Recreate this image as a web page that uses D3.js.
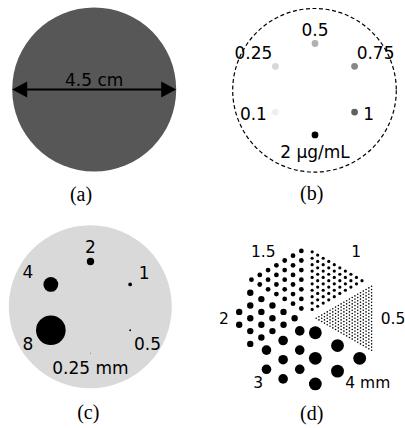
<!DOCTYPE html>
<html lang="en">
<head>
<meta charset="UTF-8"/>
<title>Phantom panels</title>
<script src="https://d3js.org/d3.v7.min.js"></script>
<style>
	body{margin:0;background:#fff;}
	svg{display:block;}
	.lbl{font-family:"DejaVu Sans",sans-serif;font-size:17px;fill:#000;}
	.lblD{font-family:"DejaVu Sans",sans-serif;font-size:15.5px;fill:#000;}
	.cap{font-family:"Liberation Serif","Times New Roman",serif;font-size:20px;fill:#000;}
</style>
</head>
<body>
<script>
// (a) uniform phantom
var diameterCm = 4.5;
// (b) wells, clockwise from the top
var concValues = [0.5, 0.75, 1, 2, 0.1, 0.25];
var concLabels = ["0.5", "0.75", "1", "2 µg/mL", "0.1", "0.25"];
// (c) rods, clockwise from the top
var rodSizes = [2, 1, 0.5, 0.25, 8, 4];
var rodLabels = ["2", "1", "0.5", "0.25 mm", "8", "4"];
// (d) derenzo sectors, clockwise from upper right
var sectorDiam = [1, 0.5, 4, 3, 2, 1.5];
var sectorRows = [10, 21, 3, 4, 6, 7];
var sectorLabels = ["1", "0.5", "4 mm", "3", "2", "1.5"];
var captions = ["(a)", "(b)", "(c)", "(d)"];

var w = 405, h = 428;
var svg = d3.select("body").append("svg")
	.attr("width", w).attr("height", h);
svg.append("rect").attr("width", w).attr("height", h).attr("fill", "#fff");

function hexAngle(i){ return (-90 + 60*i) * Math.PI/180; }

// ---- (a)
var aC = [94.2, 89.5], aR = 82;
svg.append("circle").attr("cx", aC[0]).attr("cy", aC[1]).attr("r", aR).attr("fill", "#575757");
var xa = d3.scaleLinear().domain([0, diameterCm]).range([aC[0]-aR, aC[0]+aR]);
svg.append("line")
	.attr("x1", xa(0)+10).attr("x2", xa(diameterCm)-10)
	.attr("y1", aC[1]).attr("y2", aC[1])
	.attr("stroke", "#000").attr("stroke-width", 2.2);
[0, diameterCm].forEach(function(v){
	var tip = xa(v), dir = v == 0 ? 1 : -1;
	svg.append("path")
		.attr("d", "M"+tip+","+aC[1]+"L"+(tip+dir*15)+","+(aC[1]-8)+"L"+(tip+dir*15)+","+(aC[1]+8)+"Z")
		.attr("fill", "#000");
});
svg.append("text").attr("class", "lbl")
	.attr("x", (xa(0)+xa(diameterCm))/2).attr("y", aC[1]-3.5)
	.attr("text-anchor", "middle").text(diameterCm + " cm");

// ---- (b)
var bC = [315, 89.2], bRing = 45.7;
svg.append("circle").attr("cx", 314.5).attr("cy", 90.3).attr("r", 81.8)
	.attr("fill", "none").attr("stroke", "#000").attr("stroke-width", 1.2)
	.attr("stroke-dasharray", "4,2.6");
var gray = d3.scaleLinear().domain([0, 1, 2]).range(["#ffffff", "#606060", "#000000"]);
svg.selectAll(".well").data(concValues).enter().append("circle")
	.attr("class", "well")
	.attr("cx", function(d, i){ return bC[0] + bRing*Math.cos(hexAngle(i)); })
	.attr("cy", function(d, i){ return bC[1] + bRing*Math.sin(hexAngle(i)); })
	.attr("r", 3.4)
	.attr("fill", function(d){ return gray(d); });
var bOff = [[0,-7.3],[21,-7.4],[14,7.6],[0,23.3],[-22,7.6],[-22,-7.4]];
svg.selectAll(".wlbl").data(concLabels).enter().append("text")
	.attr("class", "lbl wlbl")
	.attr("text-anchor", "middle")
	.attr("x", function(d, i){ return bC[0] + bRing*Math.cos(hexAngle(i)) + bOff[i][0]; })
	.attr("y", function(d, i){ return bC[1] + bRing*Math.sin(hexAngle(i)) + bOff[i][1]; })
	.text(function(d){ return d; });

// ---- (c)
var cC = [90.5, 307.3], cRing = 45.8;
svg.append("circle").attr("cx", 90.3).attr("cy", 306.7).attr("r", 81.5).attr("fill", "#d9d9d9");
var rc = d3.scaleLinear().domain([0, 1]).range([0, 3.7]);
svg.selectAll(".rod").data(rodSizes).enter().append("circle")
	.attr("class", "rod")
	.attr("cx", function(d, i){ return cC[0] + cRing*Math.cos(hexAngle(i)); })
	.attr("cy", function(d, i){ return cC[1] + cRing*Math.sin(hexAngle(i)); })
	.attr("r", function(d){ return rc(d)/2; })
	.attr("fill", "#000");
var cOff = [[0,-8.4],[14,-5.7],[17.4,20],[0,20.7],[-23,19.3],[-23,-6]];
svg.selectAll(".rlbl").data(rodLabels).enter().append("text")
	.attr("class", "lbl rlbl")
	.attr("text-anchor", "middle")
	.attr("x", function(d, i){ return cC[0] + cRing*Math.cos(hexAngle(i)) + cOff[i][0]; })
	.attr("y", function(d, i){ return cC[1] + cRing*Math.sin(hexAngle(i)) + cOff[i][1]; })
	.text(function(d){ return d; });

// ---- (d) derenzo
var dC = [307, 318.3], rOut = 73.3;
var mm = d3.scaleLinear().domain([0, 1]).range([0, 3.2]);
var rods = [];
sectorDiam.forEach(function(d, i){
	var th = (-60 + 60*i) * Math.PI/180;
	var ux = Math.cos(th), uy = Math.sin(th), vx = -uy, vy = ux;
	var dia = mm(d), s = 2*dia, r = dia/2;
	var a = 8.1 + 0.67*dia;
	for (var k = 0; k < sectorRows[i]; k++){
		var along = a + k*s*Math.sqrt(3)/2;
		for (var j = 0; j <= k; j++){
			var perp = (j - k/2)*s;
			if (Math.hypot(along, perp) + r > rOut) continue;
			rods.push({x: dC[0] + along*ux + perp*vx, y: dC[1] + along*uy + perp*vy, r: r});
		}
	}
});
svg.selectAll(".drod").data(rods).enter().append("circle")
	.attr("class", "drod")
	.attr("cx", function(d){ return d.x; })
	.attr("cy", function(d){ return d.y; })
	.attr("r", function(d){ return d.r; })
	.attr("fill", "#000");
var dPos = [[356.3,257.3],[393,324],[367.8,388.3],[258.3,388.3],[224,324],[263.3,257.3]];
svg.selectAll(".slbl").data(sectorLabels).enter().append("text")
	.attr("class", "lblD slbl")
	.attr("text-anchor", "middle")
	.attr("x", function(d, i){ return dPos[i][0]; })
	.attr("y", function(d, i){ return dPos[i][1]; })
	.text(function(d){ return d; });

// ---- captions
var capPos = [[81,201],[311.7,200],[88.3,419],[311.7,419.5]];
svg.selectAll(".cap").data(captions).enter().append("text")
	.attr("class", "cap")
	.attr("text-anchor", "middle")
	.attr("x", function(d, i){ return capPos[i][0]; })
	.attr("y", function(d, i){ return capPos[i][1]; })
	.text(function(d){ return d; });
</script>
</body>
</html>
